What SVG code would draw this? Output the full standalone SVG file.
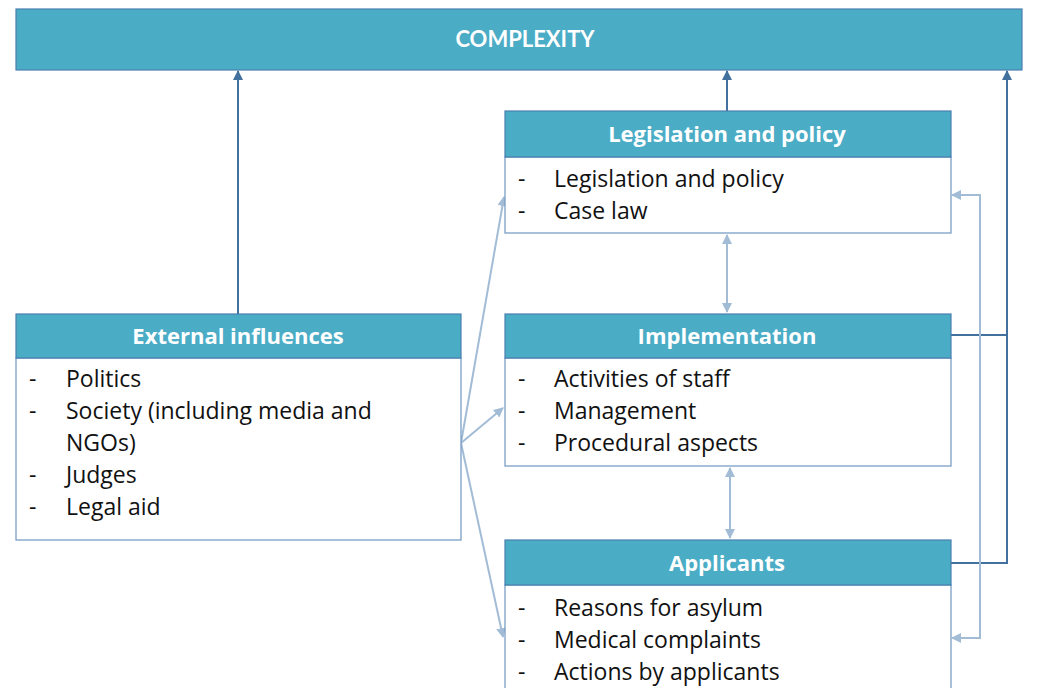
<svg xmlns="http://www.w3.org/2000/svg" width="1039" height="688" viewBox="0 0 1039 688">
<style>
.hdr{fill:#4bacc6;stroke:#4a7fb0;stroke-width:1.2}
.body{fill:#ffffff;stroke:#6f97c2;stroke-width:1.2}
.ht{font-family:"Open Sans",Lato,"Liberation Sans",sans-serif;font-weight:bold;font-size:22px;fill:#ffffff;text-anchor:middle}
.bt{font-family:"Open Sans",Lato,"Liberation Sans",sans-serif;font-size:23px;fill:#111111}
.cx{font-family:Lato,"Liberation Sans",sans-serif;font-weight:bold;font-size:22px;fill:#ffffff;text-anchor:middle}
.dark{fill:none;stroke:#41719c;stroke-width:2}
.light{fill:none;stroke:#a3bcd6;stroke-width:2}
</style>
<defs>
<marker id="ad" viewBox="0 0 10 10" refX="9" refY="5" markerWidth="5" markerHeight="5" orient="auto-start-reverse" markerUnits="strokeWidth">
<path d="M0,0 L10,5 L0,10 z" fill="#41719c"/>
</marker>
<marker id="al" viewBox="0 0 10 10" refX="9" refY="5" markerWidth="5" markerHeight="5" orient="auto-start-reverse" markerUnits="strokeWidth">
<path d="M0,0 L10,5 L0,10 z" fill="#a3bcd6"/>
</marker>
</defs>
<rect width="1039" height="688" fill="#ffffff"/>

<g id="connectors">
<line class="dark" x1="238" y1="314" x2="238" y2="71" marker-end="url(#ad)"/>
<line class="dark" x1="727" y1="111" x2="727" y2="71" marker-end="url(#ad)"/>
<polyline class="dark" points="951,335 1007,335"/>
<polyline class="dark" points="951,563 1007,563 1007,71" marker-end="url(#ad)"/>
<polyline class="light" points="952,195 980,195 980,638 952,638" marker-start="url(#al)" marker-end="url(#al)"/>
<line class="light" x1="727" y1="235" x2="727" y2="312" marker-start="url(#al)" marker-end="url(#al)"/>
<line class="light" x1="730" y1="468" x2="730" y2="538" marker-start="url(#al)" marker-end="url(#al)"/>
<line class="light" x1="461" y1="443" x2="504" y2="197" marker-end="url(#al)"/>
<line class="light" x1="461" y1="443" x2="503" y2="408" marker-end="url(#al)"/>
<line class="light" x1="461" y1="443" x2="503" y2="637" marker-end="url(#al)"/>
</g>

<g id="complexity">
<rect class="hdr" x="16" y="9" width="1006" height="61"/>
<text class="cx" x="525" y="47">COMPLEXITY</text>
</g>

<g id="legislation">
<rect class="body" x="505" y="157" width="446" height="76"/>
<rect class="hdr" x="505" y="111" width="446" height="46"/>
<text class="ht" x="727" y="142">Legislation and policy</text>
<text class="bt" x="518" y="187">-</text><text class="bt" x="554" y="187">Legislation and policy</text>
<text class="bt" x="518" y="219">-</text><text class="bt" x="554" y="219">Case law</text>
</g>

<g id="implementation">
<rect class="body" x="505" y="358" width="446" height="108"/>
<rect class="hdr" x="505" y="314" width="446" height="44"/>
<text class="ht" x="727" y="344">Implementation</text>
<text class="bt" x="518" y="387">-</text><text class="bt" x="554" y="387">Activities of staff</text>
<text class="bt" x="518" y="419">-</text><text class="bt" x="554" y="419">Management</text>
<text class="bt" x="518" y="451">-</text><text class="bt" x="554" y="451">Procedural aspects</text>
</g>

<g id="applicants">
<rect class="body" x="505" y="585" width="446" height="110"/>
<rect class="hdr" x="505" y="540" width="446" height="45"/>
<text class="ht" x="727" y="571">Applicants</text>
<text class="bt" x="518" y="616">-</text><text class="bt" x="554" y="616">Reasons for asylum</text>
<text class="bt" x="518" y="648">-</text><text class="bt" x="554" y="648">Medical complaints</text>
<text class="bt" x="518" y="680">-</text><text class="bt" x="554" y="680">Actions by applicants</text>
</g>

<g id="external">
<rect class="body" x="16" y="358" width="445" height="182"/>
<rect class="hdr" x="16" y="314" width="445" height="44"/>
<text class="ht" x="238" y="344">External influences</text>
<text class="bt" x="29" y="387">-</text><text class="bt" x="66" y="387">Politics</text>
<text class="bt" x="29" y="419">-</text><text class="bt" x="66" y="419">Society (including media and</text>
<text class="bt" x="66" y="451">NGOs)</text>
<text class="bt" x="29" y="483">-</text><text class="bt" x="66" y="483">Judges</text>
<text class="bt" x="29" y="515">-</text><text class="bt" x="66" y="515">Legal aid</text>
</g>
</svg>
